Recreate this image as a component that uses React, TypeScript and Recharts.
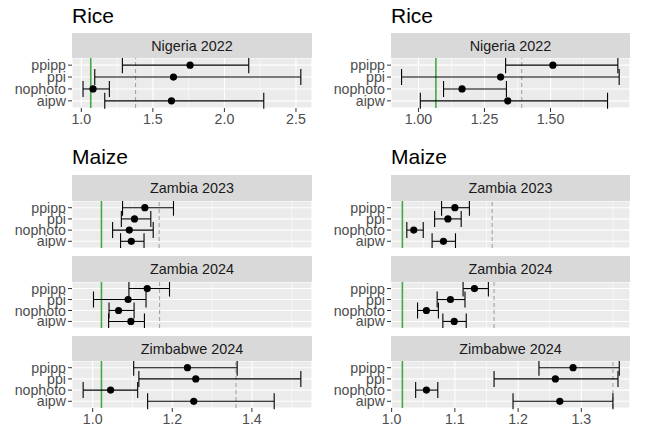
import React from 'react';
import { ScatterChart, Scatter, XAxis, YAxis, CartesianGrid, ErrorBar, ReferenceLine } from 'recharts';

// ---------- data ----------
const methods = ['ppipp', 'ppi', 'nophoto', 'aipw'];

// Rice, Nigeria 2022 (left)
const riceL_est = [1.760, 1.644, 1.082, 1.630];
const riceL_lo = [1.287, 1.094, 1.012, 1.164];
const riceL_hi = [2.170, 2.534, 1.196, 2.275];
const riceL_ref = 1.379;
const riceL_green = 1.066;

// Rice, Nigeria 2022 (right)
const riceR_est = [1.509, 1.311, 1.165, 1.338];
const riceR_lo = [1.330, 0.936, 1.095, 1.007];
const riceR_hi = [1.755, 1.760, 1.333, 1.716];
const riceR_ref = 1.391;
const riceR_green = 1.066;

// Maize left
const zam23L_est = [1.131, 1.105, 1.092, 1.097];
const zam23L_lo = [1.075, 1.072, 1.050, 1.070];
const zam23L_hi = [1.203, 1.146, 1.152, 1.129];
const zam23L_ref = 1.167;

const zam24L_est = [1.137, 1.089, 1.065, 1.096];
const zam24L_lo = [1.091, 1.002, 1.041, 1.040];
const zam24L_hi = [1.193, 1.134, 1.104, 1.130];
const zam24L_ref = 1.168;

const zim24L_est = [1.238, 1.259, 1.045, 1.254];
const zim24L_lo = [1.103, 1.116, 0.976, 1.138];
const zim24L_hi = [1.363, 1.523, 1.113, 1.456];
const zim24L_ref = 1.360;
const maizeL_green = 1.022;

// Maize right
const zam23R_est = [1.100, 1.089, 1.035, 1.082];
const zam23R_lo = [1.079, 1.068, 1.024, 1.064];
const zam23R_hi = [1.123, 1.110, 1.050, 1.101];
const zam23R_ref = 1.159;

const zam24R_est = [1.131, 1.093, 1.055, 1.099];
const zam24R_lo = [1.113, 1.072, 1.041, 1.081];
const zam24R_hi = [1.153, 1.116, 1.074, 1.118];
const zam24R_ref = 1.162;

const zim24R_est = [1.287, 1.259, 1.055, 1.266];
const zim24R_lo = [1.233, 1.162, 1.038, 1.192];
const zim24R_hi = [1.360, 1.358, 1.073, 1.350];
const zim24R_ref = 1.350;
const maizeR_green = 1.017;

// axes
const riceL_ticks = [1.0, 1.5, 2.0, 2.5];
const riceL_labels = ['1.0', '1.5', '2.0', '2.5'];
const riceL_minor = [1.25, 1.75, 2.25];
const riceL_domain: [number, number] = [0.935, 2.612];

const riceR_ticks = [1.0, 1.25, 1.5];
const riceR_labels = ['1.00', '1.25', '1.50'];
const riceR_minor = [1.125, 1.375, 1.625];
const riceR_domain: [number, number] = [0.896, 1.801];

const maizeL_ticks = [1.0, 1.2, 1.4];
const maizeL_labels = ['1.0', '1.2', '1.4'];
const maizeL_minor = [1.1, 1.3, 1.5];
const maizeL_domain: [number, number] = [0.948, 1.551];

const maizeR_ticks = [1.0, 1.1, 1.2, 1.3];
const maizeR_labels = ['1.0', '1.1', '1.2', '1.3'];
const maizeR_minor = [1.05, 1.15, 1.25, 1.35];
const maizeR_domain: [number, number] = [0.999, 1.377];

// ---------- components ----------
const FONT = '"Liberation Sans", Arial, Helvetica, sans-serif';

const Dot = (props: any) => <circle cx={props.cx} cy={props.cy} r={3.6} fill="#000000" />;

type PanelProps = {
  colLeft: number;
  plotLeft: number;
  plotRight: number;
  stripTop: number;
  plotTop: number;
  plotBottom: number;
  strip: string;
  est: number[];
  lo: number[];
  hi: number[];
  refv: number;
  green: number;
  domain: [number, number];
  ticks: number[];
  labels: string[];
  minor: number[];
  showX: boolean;
};

function Panel(p: PanelProps) {
  const data = methods.map((m, i) => ({
    y: methods.length - i,
    x: p.est[i],
    err: [p.est[i] - p.lo[i], p.hi[i] - p.est[i]],
  }));
  const axisH = p.showX ? 26 : 0;
  const width = p.plotRight - p.colLeft;
  const height = p.plotBottom - p.plotTop + axisH;
  return (
    <>
      <div
        style={{
          position: 'absolute',
          left: p.plotLeft,
          top: p.stripTop,
          width: p.plotRight - p.plotLeft,
          height: p.plotTop - p.stripTop,
          background: '#D9D9D9',
          color: '#1A1A1A',
          fontFamily: FONT,
          fontSize: 14.4,
          display: 'flex',
          alignItems: 'center',
          justifyContent: 'center',
        }}
      >
        {p.strip}
      </div>
      <div style={{ position: 'absolute', left: p.colLeft, top: p.plotTop }}>
        <ScatterChart width={width} height={height} margin={{ top: 0, right: 0, bottom: 0, left: 0 }} style={{ fontFamily: FONT }}>
          <CartesianGrid fill="#EBEBEB" stroke="#FFFFFF" strokeWidth={1.1} />
          {p.minor.map((v) => (
            <ReferenceLine key={'m' + v} x={v} stroke="#FFFFFF" strokeWidth={0.55} />
          ))}
          <XAxis
            type="number"
            dataKey="x"
            domain={p.domain}
            allowDataOverflow
            ticks={p.ticks}
            interval={0}
            tickFormatter={(v: number) => p.labels[p.ticks.indexOf(v)] ?? String(v)}
            tick={p.showX ? { fill: '#4D4D4D', fontSize: 14.2 } : false}
            tickLine={p.showX ? { stroke: '#333333' } : false}
            tickSize={4}
            tickMargin={2}
            axisLine={false}
            height={axisH}
          />
          <YAxis
            type="number"
            dataKey="y"
            domain={[0.4, 4.6]}
            allowDataOverflow
            ticks={[1, 2, 3, 4]}
            interval={0}
            tickFormatter={(v: number) => methods[methods.length - v]}
            tick={{ fill: '#4D4D4D', fontSize: 14.2 }}
            tickLine={{ stroke: '#333333' }}
            tickSize={4}
            tickMargin={2}
            axisLine={false}
            width={p.plotLeft - p.colLeft}
          />
          <ReferenceLine x={p.green} stroke="#43A843" strokeWidth={1.6} />
          <ReferenceLine x={p.refv} stroke="#A3A3A3" strokeWidth={1.1} strokeDasharray="4 3" />
          <Scatter data={data} shape={Dot} isAnimationActive={false}>
            <ErrorBar dataKey="err" direction="x" width={8} stroke="#000000" strokeWidth={1.1} isAnimationActive={false} />
          </Scatter>
        </ScatterChart>
      </div>
    </>
  );
}

const Title = ({ text, left, top }: { text: string; left: number; top: number }) => (
  <div
    style={{
      position: 'absolute',
      left,
      top,
      fontFamily: FONT,
      fontSize: 21,
      lineHeight: '21px',
      color: '#000000',
      whiteSpace: 'nowrap',
    }}
  >
    {text}
  </div>
);

export default function App() {
  const L = { colLeft: 0, plotLeft: 72, plotRight: 312 };
  const R = { colLeft: 322, plotLeft: 391, plotRight: 630 };
  return (
    <div style={{ position: 'absolute', left: 0, top: 0, width: 646, height: 433, background: '#FFFFFF', overflow: 'hidden' }}>
      <Title text="Rice" left={72} top={5} />
      <Title text="Rice" left={391} top={5} />
      <Title text="Maize" left={72} top={146} />
      <Title text="Maize" left={391} top={146} />

      <Panel {...L} stripTop={33} plotTop={58} plotBottom={108} strip="Nigeria 2022"
        est={riceL_est} lo={riceL_lo} hi={riceL_hi} refv={riceL_ref} green={riceL_green}
        domain={riceL_domain} ticks={riceL_ticks} labels={riceL_labels} minor={riceL_minor} showX />
      <Panel {...R} stripTop={33} plotTop={58} plotBottom={108} strip="Nigeria 2022"
        est={riceR_est} lo={riceR_lo} hi={riceR_hi} refv={riceR_ref} green={riceR_green}
        domain={riceR_domain} ticks={riceR_ticks} labels={riceR_labels} minor={riceR_minor} showX />

      <Panel {...L} stripTop={175} plotTop={201} plotBottom={248} strip="Zambia 2023"
        est={zam23L_est} lo={zam23L_lo} hi={zam23L_hi} refv={zam23L_ref} green={maizeL_green}
        domain={maizeL_domain} ticks={maizeL_ticks} labels={maizeL_labels} minor={maizeL_minor} showX={false} />
      <Panel {...L} stripTop={256} plotTop={282} plotBottom={328} strip="Zambia 2024"
        est={zam24L_est} lo={zam24L_lo} hi={zam24L_hi} refv={zam24L_ref} green={maizeL_green}
        domain={maizeL_domain} ticks={maizeL_ticks} labels={maizeL_labels} minor={maizeL_minor} showX={false} />
      <Panel {...L} stripTop={336} plotTop={361} plotBottom={408} strip="Zimbabwe 2024"
        est={zim24L_est} lo={zim24L_lo} hi={zim24L_hi} refv={zim24L_ref} green={maizeL_green}
        domain={maizeL_domain} ticks={maizeL_ticks} labels={maizeL_labels} minor={maizeL_minor} showX />

      <Panel {...R} stripTop={175} plotTop={201} plotBottom={248} strip="Zambia 2023"
        est={zam23R_est} lo={zam23R_lo} hi={zam23R_hi} refv={zam23R_ref} green={maizeR_green}
        domain={maizeR_domain} ticks={maizeR_ticks} labels={maizeR_labels} minor={maizeR_minor} showX={false} />
      <Panel {...R} stripTop={256} plotTop={282} plotBottom={328} strip="Zambia 2024"
        est={zam24R_est} lo={zam24R_lo} hi={zam24R_hi} refv={zam24R_ref} green={maizeR_green}
        domain={maizeR_domain} ticks={maizeR_ticks} labels={maizeR_labels} minor={maizeR_minor} showX={false} />
      <Panel {...R} stripTop={336} plotTop={361} plotBottom={408} strip="Zimbabwe 2024"
        est={zim24R_est} lo={zim24R_lo} hi={zim24R_hi} refv={zim24R_ref} green={maizeR_green}
        domain={maizeR_domain} ticks={maizeR_ticks} labels={maizeR_labels} minor={maizeR_minor} showX />
    </div>
  );
}
